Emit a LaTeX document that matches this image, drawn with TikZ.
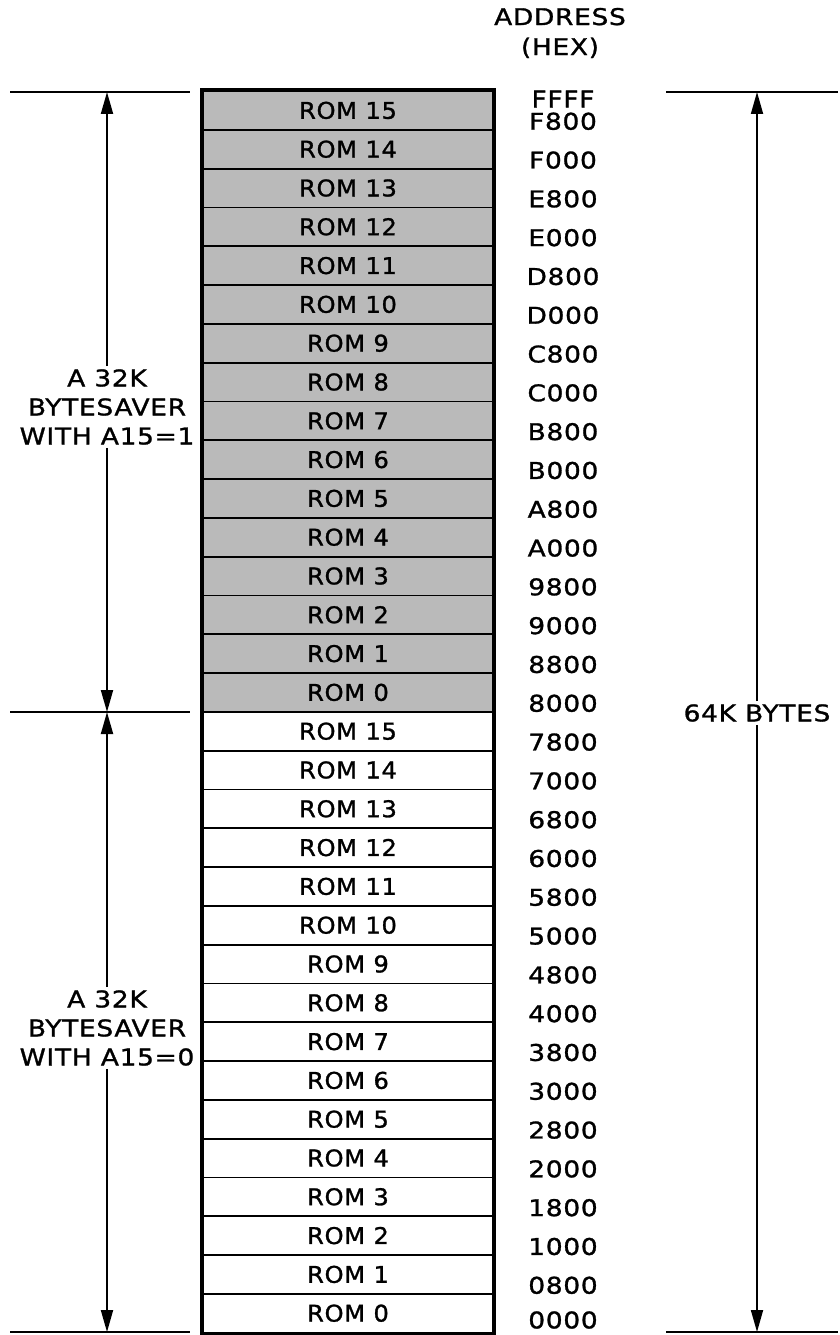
\documentclass[tikz,border=0pt]{standalone}
\usepackage{fontspec}
\setmainfont{DejaVu Sans}[FakeStretch=1.15, LetterSpace=3, FakeBold=1.2]
\newfontfamily\romfont{DejaVu Sans}[FakeStretch=1.05, LetterSpace=3, FakeBold=1.2]
\usetikzlibrary{arrows.meta, positioning}

\begin{document}
\begin{tikzpicture}[x=1pt, y=-1pt,
  font=\fontsize{23}{29}\selectfont,
  arrow/.style={-{Triangle[length=22pt, width=12pt]}, line width=1.8pt},
  ext/.style={line width=1.8pt},
  rom/.style={draw, line width=1.8pt, minimum width=290pt, minimum height=38.8pt,
              inner sep=0pt, font=\romfont\fontsize{23}{29}\selectfont},
  romhi/.style={rom, fill=black!27},
  addr/.style={inner sep=0pt},
  side/.style={align=center, inner sep=3pt},
]
\useasboundingbox (0,0) rectangle (840,1335);

% memory map, upper and lower half
\foreach \n [count=\k from 0] in {15,14,...,0} {
  \node[romhi] (hi\n) at (348,{110.4+38.8*\k}) {ROM \n};
  \node[rom] (lo\n) at (348,{731.2+38.8*\k}) {ROM \n};
}
\draw[line width=4pt] (hi15.north west) rectangle (lo0.south east);

% addresses
\node[align=center, font=\fontsize{23}{30}\selectfont] (head) at (560,33) {ADDRESS\\(HEX)};
\node[addr] (aFFFF) at (563,99) {FFFF};
\foreach \a [count=\k from 1] in {F800,F000,E800,E000,D800,D000,C800,C000,
    B800,B000,A800,A000,9800,9000,8800,8000,7800,7000,6800,6000,5800,5000,
    4800,4000,3800,3000,2800,2000,1800,1000,0800}
  \node[addr] (a\a) at (563,{82.5+38.8*\k}) {\a};
\node[addr] (a0000) at (563,1320) {0000};

% extension lines
\coordinate (tl) at (10,92);   \coordinate (tlx) at (190,92);
\coordinate (ml) at (10,712);  \coordinate (mlx) at (190,712);
\coordinate (bl) at (10,1332); \coordinate (blx) at (190,1332);
\coordinate (tr) at (666,92);  \coordinate (trx) at (838,92);
\coordinate (br) at (666,1332); \coordinate (brx) at (838,1332);
\draw[ext] (tl) -- (tlx);
\draw[ext] (ml) -- (mlx);
\draw[ext] (bl) -- (blx);
\draw[ext] (tr) -- (trx);
\draw[ext] (br) -- (brx);

% sizes
\node[side] (hiLbl) at (107,407) {A 32K\\BYTESAVER\\WITH A15=1};
\node[side] (loLbl) at (107,1028) {A 32K\\BYTESAVER\\WITH A15=0};
\node[side] (total) at (757,713) {64K BYTES};
\draw[arrow] (hiLbl.north) -- (hiLbl.north |- tl);
\draw[arrow] (hiLbl.south) -- (hiLbl.south |- ml);
\draw[arrow] (loLbl.north) -- (loLbl.north |- ml);
\draw[arrow] (loLbl.south) -- (loLbl.south |- bl);
\draw[arrow] (total.north) -- (total.north |- tr);
\draw[arrow] (total.south) -- (total.south |- br);
\end{tikzpicture}
\end{document}
